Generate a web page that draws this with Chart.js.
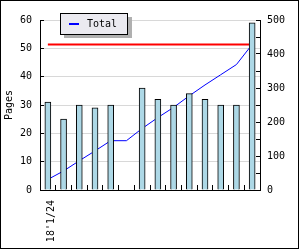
<!DOCTYPE html>
<html><head><meta charset="utf-8">
<script src="https://cdn.jsdelivr.net/npm/chart.js@4/dist/chart.umd.min.js"></script>
<style>html,body{margin:0;padding:0;background:#fff}canvas{display:block}</style>
</head><body>
<canvas id="c" width="300" height="250"></canvas>
<script>
const categories = ["18'1/24", "", "", "", "", "", "", "", "", "", "", "", "", ""];
const pages = [31, 25, 30, 29, 30, 0, 36, 32, 30, 34, 32, 30, 30, 59];
const total = [31, 56, 86, 115, 145, 145, 181, 213, 243, 277, 309, 339, 369, 428];
const limitLine = [428, 428, 428, 428, 428, 428, 428, 428, 428, 428, 428, 428, 428, 428];
const leftAxisMax = 60;
const rightAxisMax = 500;
const leftAxisTitle = "Pages";
const legendLabel = "Total";

const FONT = "'DejaVu Sans Mono', 'Liberation Mono', monospace";

const decor = {
  id: 'decor',
  afterDraw(chart) {
    const ctx = chart.ctx;
    ctx.save();
    // legend box with shadow
    ctx.fillStyle = '#b0b0b0';
    ctx.fillRect(64, 17, 68, 21);
    ctx.fillStyle = '#ebeaf0';
    ctx.fillRect(60, 13, 68, 22);
    ctx.strokeStyle = '#000';
    ctx.lineWidth = 1;
    ctx.strokeRect(60.5, 13.5, 67, 21);
    ctx.strokeStyle = '#0000ff';
    ctx.lineWidth = 2;
    ctx.beginPath();
    ctx.moveTo(69, 24);
    ctx.lineTo(79, 24);
    ctx.stroke();
    ctx.fillStyle = '#000';
    ctx.font = '10px ' + FONT;
    ctx.textBaseline = 'middle';
    ctx.textAlign = 'left';
    ctx.fillText(chart.data.datasets[1].label, 87, 24);
    // outer frame
    ctx.strokeStyle = '#000';
    ctx.lineWidth = 1;
    ctx.strokeRect(0.5, 0.5, 298, 248);
    ctx.restore();
  }
};

new Chart(document.getElementById('c'), {
  data: {
    labels: categories,
    datasets: [
      { type: 'bar', label: 'Pages', data: pages, yAxisID: 'y',
        backgroundColor: '#add8e6', borderColor: '#000', borderWidth: 1,
        barThickness: 6, order: 1 },
      { type: 'line', label: legendLabel, data: total, yAxisID: 'y1',
        borderColor: '#0000ff', borderWidth: 1, pointRadius: 0, tension: 0,
        fill: false, order: 2 },
      { type: 'line', label: 'Limit', data: limitLine, yAxisID: 'y1',
        borderColor: '#ff0000', borderWidth: 2, pointRadius: 0, tension: 0,
        fill: false, order: 3 }
    ]
  },
  options: {
    responsive: false,
    animation: false,
    devicePixelRatio: 1,
    layout: { padding: { top: 20, left: 0, right: 0, bottom: 0 } },
    plugins: { legend: { display: false }, tooltip: { enabled: false } },
    scales: {
      x: {
        type: 'category',
        offset: true,
        afterFit: s => { s.height = 60; },
        grid: { offset: true, drawOnChartArea: false, tickLength: -5, tickColor: '#000' },
        border: { color: '#000', width: 1 },
        ticks: { autoSkip: false, minRotation: 90, maxRotation: 90, padding: 15, labelOffset: 4,
                 color: '#000', font: { family: FONT, size: 10 } }
      },
      y: {
        position: 'left',
        min: 0, max: leftAxisMax,
        afterFit: s => { s.width = 40; },
        title: { display: true, text: leftAxisTitle, color: '#000', padding: { top: 3, bottom: 0 },
                 font: { family: FONT, size: 10 } },
        grid: { tickLength: -4, tickColor: '#000',
                color: c => (c.tick && c.tick.value % 10 === 0) ? '#d8d8d8' : 'rgba(0,0,0,0)' },
        border: { color: '#000', width: 1 },
        ticks: { stepSize: 5, padding: 12, color: '#000', font: { family: FONT, size: 10 },
                 callback: v => (v % 10 === 0 ? String(v) : '') }
      },
      y1: {
        position: 'right',
        min: 0, max: rightAxisMax,
        afterFit: s => { s.width = 40; },
        grid: { drawOnChartArea: false, tickLength: -4, tickColor: '#000' },
        border: { color: '#000', width: 1 },
        ticks: { stepSize: 50, padding: 11, color: '#000', font: { family: FONT, size: 10 },
                 callback: v => (v % 100 === 0 ? String(v) : '') }
      }
    }
  },
  plugins: [decor]
});
</script>
</body></html>
